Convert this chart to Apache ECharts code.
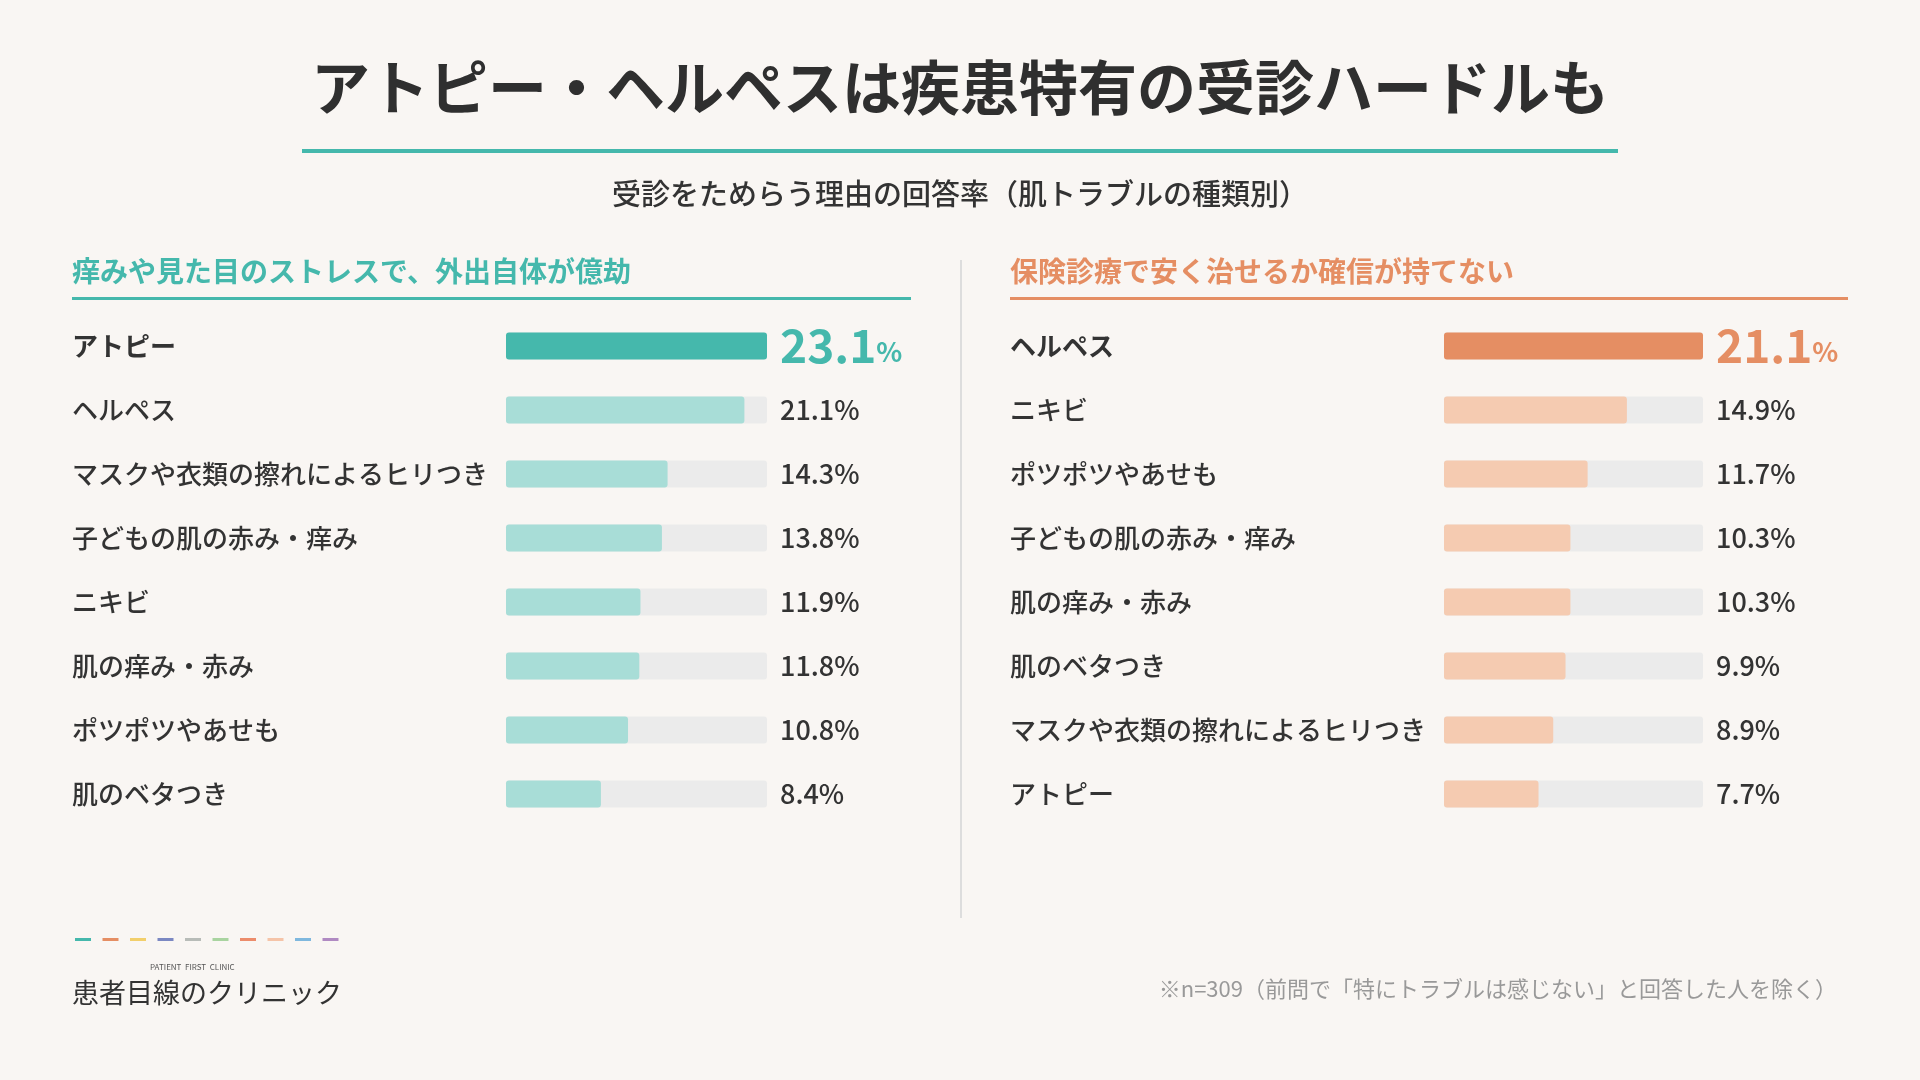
<!DOCTYPE html>
<html><head><meta charset="utf-8">
<script src="https://cdn.jsdelivr.net/npm/echarts@6/dist/echarts.min.js"></script>
<style>html,body{margin:0;padding:0;background:#f9f6f3}#c{width:1920px;height:1080px}</style>
</head><body><div id="c"></div>
<script>
const leftCats = ['アトピー','ヘルペス','マスクや衣類の擦れによるヒリつき','子どもの肌の赤み・痒み','ニキビ','肌の痒み・赤み','ポツポツやあせも','肌のベタつき'];
const leftVals = [23.1,21.1,14.3,13.8,11.9,11.8,10.8,8.4];
const rightCats = ['ヘルペス','ニキビ','ポツポツやあせも','子どもの肌の赤み・痒み','肌の痒み・赤み','肌のベタつき','マスクや衣類の擦れによるヒリつき','アトピー'];
const rightVals = [21.1,14.9,11.7,10.3,10.3,9.9,8.9,7.7];
const leftMax = 23.1, rightMax = 21.1;
const F = '"Noto Sans CJK JP","Noto Sans",sans-serif';
const TXT = '#333333';
const teal = '#45b8ac', tealL = '#a8ddd7', org = '#e58e63', orgL = '#f5cbb1';

function side(idx, cats, vals, max, strong, light) {
  const track = vals.map((v,i)=>({
    value: max,
    label: i===0 ? {formatter: '{a|'+v.toFixed(1)+'}{b|%}', rich:{a:{fontSize:46,fontWeight:'bold',color:strong,fontFamily:F},b:{fontSize:27,fontWeight:'bold',color:strong,fontFamily:F,padding:[12,0,0,0]}}} : {formatter: v.toFixed(1)+'%'}
  }));
  const bars = vals.map((v,i)=>({value:v, itemStyle:{color: i===0?strong:light}}));
  return [
    {type:'bar', xAxisIndex:idx, yAxisIndex:idx, data:track, barWidth:27, barGap:'-100%', silent:true,
     itemStyle:{color:'#ebebeb', borderRadius:3},
     label:{show:true, position:'right', distance:13, fontSize:27, fontWeight:500, color:TXT, fontFamily:F}},
    {type:'bar', xAxisIndex:idx, yAxisIndex:idx, data:bars, barWidth:27, barGap:'-100%', itemStyle:{borderRadius:3}, z:3}
  ];
}
function yax(idx, cats){
  return {type:'category', gridIndex:idx, data:cats, inverse:true, axisLine:{show:false}, axisTick:{show:false},
    axisLabel:{align:'left', margin:434, fontSize:26, fontWeight:500, color:TXT, fontFamily:F,
      formatter:(v,i)=> i===0 ? '{b|'+v+'}' : v, rich:{b:{fontSize:26,fontWeight:'bold',color:TXT,fontFamily:F}}}};
}
const dashCols = ['#45b8ac','#e58e63','#f2cf6b','#7b88c2','#b8bcb8','#a9d4a0','#ec8c6b','#f5c4a8','#7fb8de','#b08ac2'];
const graphic = [
  {type:'text', left:'center', top:58, style:{text:'アトピー・ヘルペスは疾患特有の受診ハードルも', font:'bold 59px '+F, fill:'#2f2f2f'}},
  {type:'rect', shape:{x:302,y:149,width:1316,height:4}, style:{fill:teal}},
  {type:'text', left:'center', top:179, style:{text:'受診をためらう理由の回答率（肌トラブルの種類別）', font:'500 29px '+F, fill:TXT}},
  {type:'text', left:72, top:257, style:{text:'痒みや見た目のストレスで、外出自体が億劫', font:'bold 28px '+F, fill:teal}},
  {type:'rect', shape:{x:72,y:297,width:839,height:3}, style:{fill:teal}},
  {type:'text', left:1010, top:257, style:{text:'保険診療で安く治せるか確信が持てない', font:'bold 28px '+F, fill:org}},
  {type:'rect', shape:{x:1010,y:297,width:838,height:3}, style:{fill:org}},
  {type:'rect', shape:{x:960,y:260,width:2,height:658}, style:{fill:'#dddddd'}},
  {type:'text', left:150, top:963, style:{text:'PATIENT  FIRST  CLINIC', font:'8px '+F, fill:'#555'}},
  {type:'text', left:72, top:979, style:{text:'患者目線のクリニック', font:'27px '+F, fill:TXT}},
  {type:'text', right:83, top:978, style:{text:'※n=309（前問で「特にトラブルは感じない」と回答した人を除く）', font:'22px '+F, fill:'#999'}}
];
dashCols.forEach((c,i)=>graphic.push({type:'rect', shape:{x:75+i*27.5, y:938, width:16, height:3}, style:{fill:c}}));
const chart = echarts.init(document.getElementById('c'));
chart.setOption({
  backgroundColor:'#f9f6f3',
  animation:false,
  graphic,
  grid:[{left:506, width:261, top:314, height:512},{left:1444, width:259, top:314, height:512}],
  xAxis:[{type:'value', gridIndex:0, min:0, max:leftMax, show:false},{type:'value', gridIndex:1, min:0, max:rightMax, show:false}],
  yAxis:[yax(0,leftCats), yax(1,rightCats)],
  series:[...side(0,leftCats,leftVals,leftMax,teal,tealL), ...side(1,rightCats,rightVals,rightMax,org,orgL)]
});
</script></body></html>
